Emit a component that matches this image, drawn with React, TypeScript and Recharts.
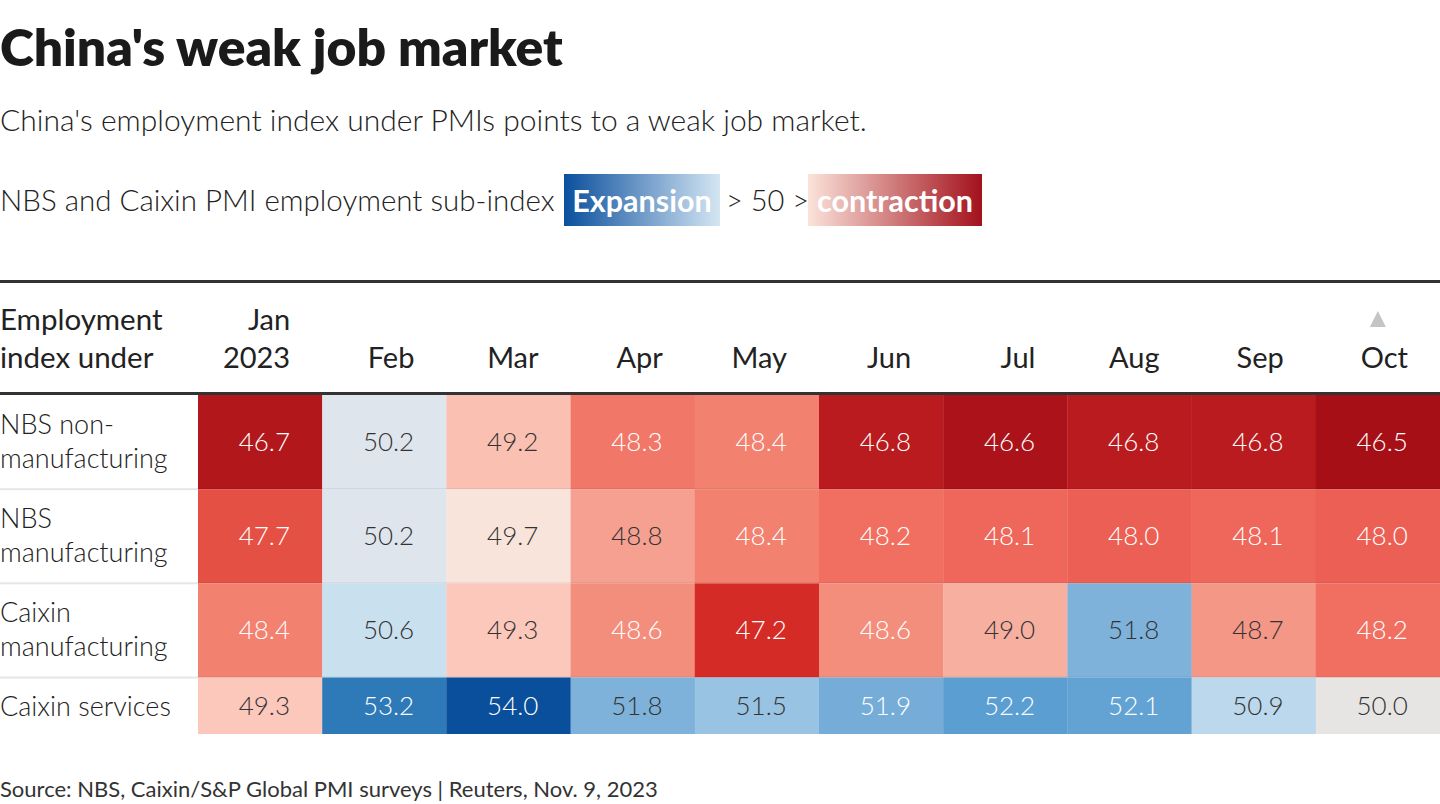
import React from 'react';
import { BarChart, Bar, XAxis, YAxis } from 'recharts';

// ---------- data ----------
const months = ['Jan', 'Feb', 'Mar', 'Apr', 'May', 'Jun', 'Jul', 'Aug', 'Sep', 'Oct'];
const firstYearLabel = '2023';
const rowLabels: string[][] = [
  ['NBS non-', 'manufacturing'],
  ['NBS', 'manufacturing'],
  ['Caixin', 'manufacturing'],
  ['Caixin services'],
];
const nbsNonManufacturing = [46.7, 50.2, 49.2, 48.3, 48.4, 46.8, 46.6, 46.8, 46.8, 46.5];
const nbsManufacturing = [47.7, 50.2, 49.7, 48.8, 48.4, 48.2, 48.1, 48.0, 48.1, 48.0];
const caixinManufacturing = [48.4, 50.6, 49.3, 48.6, 47.2, 48.6, 49.0, 51.8, 48.7, 48.2];
const caixinServices = [49.3, 53.2, 54.0, 51.8, 51.5, 51.9, 52.2, 52.1, 50.9, 50.0];
const seriesList = [nbsNonManufacturing, nbsManufacturing, caixinManufacturing, caixinServices];

// ---------- layout / style ----------
const FONT = 'Lato, "Open Sans", sans-serif';
const rowExtent = [1, 1, 1, 0.6]; // relative row heights (style)
const totalExtent = rowExtent.reduce((a, b) => a + b, 0);
const CHART_W = 1440;
const HEADER_H = 115;
const CHART_H = 454;
const LABEL_W = 198;
const ROW_PX = (CHART_H - HEADER_H) / totalExtent;
const BAND_PX = (CHART_W - LABEL_W) / months.length;

const colorStops: [number, number[]][] = [
  [46.5, [165, 15, 21]],
  [46.6, [171, 18, 25]],
  [46.8, [185, 27, 30]],
  [47.2, [213, 43, 39]],
  [47.7, [229, 80, 69]],
  [48.0, [236, 95, 84]],
  [48.2, [240, 111, 96]],
  [48.4, [242, 129, 112]],
  [48.6, [243, 142, 125]],
  [48.8, [245, 160, 145]],
  [49.0, [247, 176, 160]],
  [49.3, [252, 200, 187]],
  [49.7, [249, 228, 220]],
  [50.0, [230, 229, 227]],
  [50.2, [223, 229, 236]],
  [50.6, [201, 224, 239]],
  [50.9, [188, 216, 236]],
  [51.5, [152, 195, 226]],
  [51.8, [127, 178, 218]],
  [52.2, [90, 158, 210]],
  [53.2, [46, 122, 185]],
  [54.0, [10, 79, 155]],
];

function colorFor(v: number): string {
  if (v <= colorStops[0][0]) return `rgb(${colorStops[0][1].join(',')})`;
  for (let i = 1; i < colorStops.length; i++) {
    const [v1, c1] = colorStops[i];
    const [v0, c0] = colorStops[i - 1];
    if (v <= v1) {
      const t = (v - v0) / (v1 - v0);
      const c = c0.map((a, k) => Math.round(a + (c1[k] - a) * t));
      return `rgb(${c.join(',')})`;
    }
  }
  return `rgb(${colorStops[colorStops.length - 1][1].join(',')})`;
}

const isDarkCell = (v: number) => v <= 48.6 || v >= 51.9;

// table built for the library
const tableData = months.map((m, i) => {
  const row: Record<string, any> = { month: m };
  seriesList.forEach((s, r) => {
    row[`v${r}`] = s[i];
    row[`h${r}`] = rowExtent[r];
  });
  return row;
});

const rowCenters = rowExtent.map((e, r) => rowExtent.slice(0, r).reduce((a, b) => a + b, 0) + e / 2);

const makeCellShape = (r: number) => (props: any) => {
  const { x, y, width, height, payload } = props;
  const top = Math.min(y, y + height);
  const h = Math.abs(height);
  const v: number = payload[`v${r}`];
  return (
    <g>
      <rect x={x} y={top} width={width + 0.5} height={h} fill={colorFor(v)} />
      {r < rowExtent.length - 1 && (
        <rect x={x} y={top + h - 1} width={width + 0.5} height={2} fill="rgba(0,0,0,0.07)" />
      )}
      <text
        x={x + width - 32}
        y={top + h / 2 + 9}
        textAnchor="end"
        fontFamily={FONT}
        fontSize={26}
        fontWeight={300}
        fill={isDarkCell(v) ? '#ffffff' : '#333333'}
      >
        {v.toFixed(1)}
      </text>
    </g>
  );
};

const MonthTick = (props: any) => {
  const { x, payload, index } = props;
  const right = x + BAND_PX / 2 - 32;
  const isFirst = index === 0;
  const isLast = index === months.length - 1;
  return (
    <g>
      {isFirst && (
        <text x={right} y={50} textAnchor="end" fontFamily={FONT} fontSize={29} fill="#222">
          {payload.value}
        </text>
      )}
      <text x={right} y={88} textAnchor="end" fontFamily={FONT} fontSize={29} fill="#222">
        {isFirst ? firstYearLabel : payload.value}
      </text>
      {isLast && (
        <path d={`M ${x - 8} 47 L ${x + 8} 47 L ${x} 31 Z`} fill="#c4c4c4" />
      )}
    </g>
  );
};

const RowTick = (props: any) => {
  const { y, index } = props;
  const lines = rowLabels[index] || [];
  const halfPx = (rowExtent[index] * ROW_PX) / 2;
  return (
    <g>
      {lines.length === 1 ? (
        <text x={0} y={y + 10} fontFamily={FONT} fontSize={27} fontWeight={300} fill="#222">
          {lines[0]}
        </text>
      ) : (
        lines.map((l, k) => (
          <text key={k} x={0} y={y - 8 + k * 34} fontFamily={FONT} fontSize={27} fontWeight={300} fill="#222">
            {l}
          </text>
        ))
      )}
      {index < rowExtent.length - 1 && (
        <rect x={0} y={y + halfPx - 1} width={LABEL_W} height={2} fill="#e6e6e6" />
      )}
    </g>
  );
};

export default function App() {
  return (
    <div style={{ position: 'relative', width: 1440, height: 804, background: '#fff', fontFamily: FONT, color: '#1a1a1a', overflow: 'hidden' }}>
      <style>{`body{margin:0;background:#fff}`}</style>
      <div style={{ position: 'absolute', left: 0, top: 14, fontSize: 51.5, fontWeight: 800, lineHeight: '64px', whiteSpace: 'nowrap', color: '#1a1a1a' }}>
        China's weak job market
      </div>
      <div style={{ position: 'absolute', left: 0, top: 98.5, fontSize: 30, fontWeight: 300, lineHeight: '40px', whiteSpace: 'nowrap', color: '#222' }}>
        China's employment index under PMIs points to a weak job market.
      </div>
      <div style={{ position: 'absolute', left: 0, top: 180, fontSize: 29.5, fontWeight: 300, lineHeight: '40px', whiteSpace: 'nowrap', color: '#222' }}>
        NBS and Caixin PMI employment sub-index
      </div>
      <div style={{ position: 'absolute', left: 564, top: 174, width: 156, height: 52, background: 'linear-gradient(to right, #0b4f9d, #d4e6f3)' }} />
      <div style={{ position: 'absolute', left: 564, top: 180, width: 156, textAlign: 'center', fontSize: 30.5, fontWeight: 700, lineHeight: '40px', color: '#fff', whiteSpace: 'nowrap' }}>
        Expansion
      </div>
      <div style={{ position: 'absolute', left: 726, top: 180, fontSize: 29, fontWeight: 300, lineHeight: '40px', whiteSpace: 'nowrap', color: '#222' }}>
        {'> 50 >'}
      </div>
      <div style={{ position: 'absolute', left: 808, top: 174, width: 174, height: 52, background: 'linear-gradient(to right, #fbe3da, #a3111b)' }} />
      <div style={{ position: 'absolute', left: 808, top: 180, width: 174, textAlign: 'center', fontSize: 30.5, fontWeight: 700, lineHeight: '40px', color: '#fff', whiteSpace: 'nowrap' }}>
        contraction
      </div>

      <div style={{ position: 'absolute', left: 0, top: 280, width: 1440, height: 3, background: '#333' }} />
      <div style={{ position: 'absolute', left: 0, top: 300, fontSize: 29.5, fontWeight: 400, lineHeight: '38px', color: '#222', whiteSpace: 'nowrap' }}>
        <div>Employment</div>
        <div>index under</div>
      </div>

      <div style={{ position: 'absolute', left: 0, top: 280 }}>
        <BarChart
          width={CHART_W}
          height={CHART_H}
          data={tableData}
          margin={{ top: 0, right: 0, bottom: 0, left: 0 }}
          barCategoryGap={0}
          barGap={0}
        >
          <XAxis
            dataKey="month"
            orientation="top"
            height={HEADER_H}
            axisLine={false}
            tickLine={false}
            interval={0}
            tick={<MonthTick />}
          />
          <YAxis
            type="number"
            domain={[0, totalExtent]}
            reversed
            width={LABEL_W}
            ticks={rowCenters}
            interval={0}
            axisLine={false}
            tickLine={false}
            tick={<RowTick />}
          />
          {seriesList.map((_, r) => (
            <Bar key={r} dataKey={`h${r}`} stackId="grid" isAnimationActive={false} shape={makeCellShape(r)} />
          ))}
        </BarChart>
      </div>
      <div style={{ position: 'absolute', left: 0, top: 392, width: 1440, height: 3, background: '#333' }} />

      <div style={{ position: 'absolute', left: 0, top: 774, fontSize: 22, fontWeight: 400, lineHeight: '30px', whiteSpace: 'nowrap', color: '#333' }}>
        Source: NBS, Caixin/S&amp;P Global PMI surveys | Reuters, Nov. 9, 2023
      </div>
    </div>
  );
}
